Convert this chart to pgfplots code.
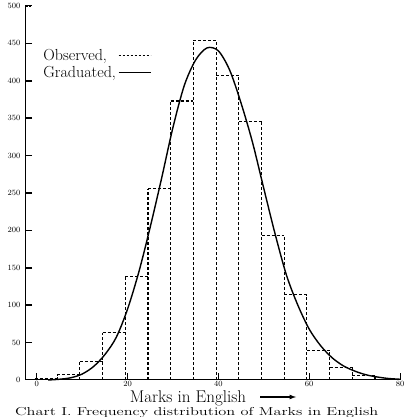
\documentclass[border=0pt]{standalone}
\usepackage{graphicx}
\usepackage{pgfplots}
\pgfplotsset{compat=1.18}
\usepackage{pgfplotstable}

% observed frequencies: left edge of class, frequency
\pgfplotstableread{
x y
-0.5 2
4.5 7
9.5 25
14.5 63
19.5 138
24.5 256
29.5 373
34.5 454
39.5 407
44.5 346
49.5 193
54.5 114
59.5 39
64.5 17
69.5 6
74.5 0
}\observed

% class edges and the height of the vertical line drawn at each edge
\pgfplotstableread{
x y
-0.5 2
4.5 7
9.5 25
14.5 63
19.5 138
24.5 256
29.5 373
34.5 454
39.5 454
44.5 407
49.5 346
54.5 193
59.5 114
64.5 39
69.5 17
74.5 6
}\edges

\pgfplotstableread{
x y
2.5 0
5 1
7.5 3
10 8
12.5 18
15 34
17.5 57
20 95
22.5 145
25 205
27.5 270
30 338
32.5 394
35 428
37.5 444
40 440
42.5 414
45 370
47.5 318
50 256
52.5 195
55 140
57.5 100
60 68
62.5 46
65 30
67.5 19
70 12
72.5 7
75 4
77.5 2
80 1
}\graduated

\begin{document}
\begin{tikzpicture}
\path[use as bounding box] (-25pt,-37pt) rectangle (381pt,380pt);
\begin{axis}[
  scale only axis,
  width=375pt, height=374pt,
  xmin=-2.6, xmax=80, ymin=0, ymax=500,
  axis lines*=left,
  axis line style={line width=1pt},
  xtick={0,20,40,60,80},
  ytick={0,50,...,500},
  major tick length=7pt,
  tick align=inside,
  every tick/.style={black, line width=1pt},
  tick label style={font=\footnotesize\bfseries},
  xticklabel style={yshift=2pt},
  yticklabel style={xshift=-1pt},
  legend style={draw=none, fill=none, at={(rel axis cs:0.035,0.895)}, anchor=north west,
    font=\fontsize{16}{18}\selectfont, row sep=0pt,
    /tikz/every even column/.append style={column sep=1pt}},
  legend image code/.code={\draw[#1] (0pt,0pt) -- (32pt,0pt);},
  legend plot pos=right,
  legend cell align=left,
  clip=false,
]
\addlegendimage{black, line width=0.9pt, dash pattern=on 2pt off 2pt}
\addlegendentry{Observed,}
\addlegendimage{black, line width=1.2pt}
\addlegendentry{Graduated,}
% tick marks on the y axis
\addplot[only marks, mark=-, mark size=3.5pt, mark options={line width=1.5pt, xshift=3.5pt, solid, draw=black}, forget plot]
  coordinates {(-2.6,50) (-2.6,100) (-2.6,150) (-2.6,200) (-2.6,250) (-2.6,300) (-2.6,350) (-2.6,400) (-2.6,450)};
\addplot[only marks, mark=-, mark size=3pt, mark options={line width=1.3pt, xshift=3pt, draw=black, dash pattern=on 2pt off 1.5pt}, forget plot]
  coordinates {(-2.6,500)};
\addplot[const plot mark left, jump mark left, black, line width=1.1pt, dash pattern=on 3pt off 2pt, forget plot] table[x=x,y=y] {\observed};
\addplot[ycomb, black, line width=1.1pt, dash pattern=on 3pt off 2pt, mark=none, forget plot] table[x=x,y=y] {\edges};
\addplot[black, line width=1.4pt, smooth, forget plot] table[x=x,y=y] {\graduated};
\end{axis}
\node[anchor=base, font=\fontsize{17}{19}\selectfont] at (163pt,-22.5pt) {Marks in English};
\draw[line width=1.2pt, -latex] (235pt,-17pt) -- (271pt,-17pt);
\node[anchor=base west, font=\fontsize{11.5}{14}\selectfont, inner sep=0pt] at (-10pt,-35pt) {\scalebox{1.42}[1]{Chart I. Frequency distribution of Marks in English}};
\end{tikzpicture}
\end{document}
